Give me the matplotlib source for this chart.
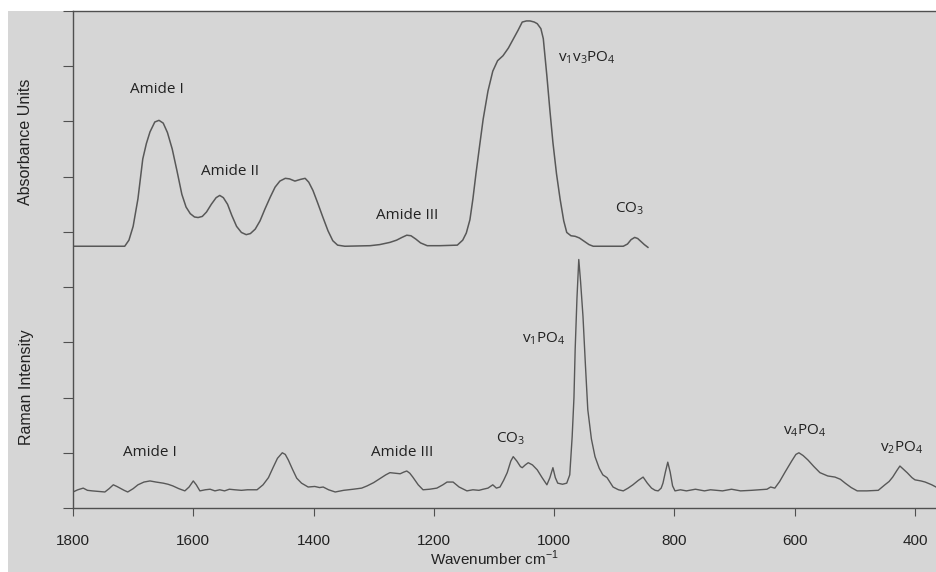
import matplotlib
matplotlib.use("Agg")
import matplotlib.pyplot as plt
from matplotlib.patches import Rectangle

# FTIR spectrum (upper trace), values in axis units
ftir_wn = [1800, 1714, 1707, 1700, 1692, 1684, 1678, 1672, 1664, 1657, 1650, 1643,
           1635, 1627, 1619, 1612, 1605, 1598, 1592, 1585, 1578, 1570, 1562, 1556,
           1550, 1543, 1536, 1528, 1520, 1512, 1505, 1497, 1489, 1481, 1472, 1464,
           1456, 1447, 1440, 1431, 1422, 1414, 1408, 1401, 1393, 1385, 1376, 1368,
           1360, 1348, 1306, 1290, 1273, 1262, 1253, 1245, 1238, 1230, 1222, 1211,
           1190, 1161, 1152, 1146, 1140, 1135, 1130, 1124, 1118, 1110, 1102, 1094,
           1085, 1076, 1068, 1060, 1053, 1046, 1040, 1033, 1028, 1022, 1018, 1012,
           1007, 1002, 996, 990, 984, 979, 972, 965, 958, 950, 942, 935, 885, 878,
           872, 866, 861, 856, 850, 844]
ftir_abs = [4.74, 4.74, 4.85, 5.10, 5.60, 6.32, 6.60, 6.81, 6.99, 7.02, 6.97, 6.80,
            6.50, 6.10, 5.68, 5.45, 5.33, 5.27, 5.26, 5.28, 5.36, 5.50, 5.62, 5.66,
            5.62, 5.50, 5.30, 5.10, 4.99, 4.95, 4.97, 5.05, 5.20, 5.41, 5.63, 5.81,
            5.92, 5.97, 5.96, 5.92, 5.95, 5.97, 5.90, 5.75, 5.52, 5.28, 5.02, 4.84,
            4.76, 4.74, 4.75, 4.77, 4.81, 4.85, 4.90, 4.94, 4.93, 4.87, 4.80, 4.75,
            4.75, 4.76, 4.85, 4.98, 5.22, 5.60, 6.05, 6.55, 7.04, 7.55, 7.91, 8.10,
            8.19, 8.33, 8.49, 8.65, 8.80, 8.82, 8.82, 8.80, 8.77, 8.68, 8.50, 7.82,
            7.20, 6.62, 6.05, 5.59, 5.20, 4.99, 4.93, 4.92, 4.89, 4.83, 4.77, 4.74,
            4.74, 4.78, 4.86, 4.90, 4.88, 4.83, 4.77, 4.72]

# Raman spectrum (lower trace)
raman_wn = [1800, 1792, 1783, 1776, 1768, 1758, 1747, 1740, 1733, 1727, 1722, 1715,
            1709, 1700, 1692, 1682, 1672, 1662, 1650, 1642, 1634, 1624, 1614, 1607,
            1600, 1595, 1589, 1580, 1572, 1564, 1556, 1548, 1540, 1531, 1520, 1510,
            1500, 1494, 1484, 1475, 1467, 1460, 1452, 1447, 1442, 1435, 1428, 1420,
            1409, 1398, 1390, 1384, 1375, 1364, 1350, 1334, 1320, 1311, 1300, 1290,
            1280, 1273, 1265, 1256, 1250, 1245, 1240, 1235, 1226, 1218, 1207, 1195,
            1185, 1178, 1168, 1158, 1145, 1135, 1125, 1118, 1110, 1102, 1096, 1090,
            1084, 1078, 1072, 1068, 1062, 1056, 1053, 1048, 1043, 1036, 1028, 1020,
            1012, 1007, 1002, 998, 994, 986, 979, 974, 970, 967, 965, 962, 959, 956,
            952, 948, 944, 938, 932, 925, 919, 912, 902, 893, 885, 877, 869, 860,
            852, 845, 838, 832, 827, 822, 819, 815, 811, 807, 803, 799, 790, 780,
            765, 750, 740, 720, 705, 690, 672, 660, 646, 640, 633, 625, 616, 605,
            598, 593, 586, 578, 568, 558, 545, 533, 524, 516, 506, 496, 480, 461,
            450, 443, 437, 430, 425, 419, 413, 405, 400, 390, 383, 372, 365]
raman_int = [0.29, 0.33, 0.36, 0.32, 0.31, 0.30, 0.29, 0.35, 0.42, 0.39, 0.36, 0.32,
             0.29, 0.35, 0.42, 0.47, 0.49, 0.47, 0.45, 0.43, 0.40, 0.35, 0.31, 0.38,
             0.49, 0.42, 0.31, 0.33, 0.34, 0.31, 0.33, 0.31, 0.34, 0.33, 0.32, 0.33,
             0.33, 0.33, 0.42, 0.55, 0.74, 0.90, 1.00, 0.97, 0.87, 0.70, 0.54, 0.45,
             0.38, 0.39, 0.37, 0.38, 0.33, 0.29, 0.32, 0.34, 0.36, 0.40, 0.46, 0.53,
             0.60, 0.64, 0.63, 0.62, 0.65, 0.67, 0.63, 0.56, 0.42, 0.33, 0.34, 0.36,
             0.42, 0.47, 0.47, 0.38, 0.31, 0.33, 0.32, 0.34, 0.36, 0.42, 0.36, 0.38,
             0.50, 0.64, 0.85, 0.93, 0.85, 0.75, 0.73, 0.78, 0.82, 0.78, 0.69, 0.55,
             0.42, 0.55, 0.73, 0.55, 0.45, 0.43, 0.45, 0.60, 1.29, 2.00, 2.87, 3.80,
             4.50, 4.10, 3.47, 2.60, 1.78, 1.25, 0.93, 0.72, 0.60, 0.55, 0.38, 0.33,
             0.31, 0.36, 0.42, 0.50, 0.56, 0.45, 0.36, 0.32, 0.31, 0.36, 0.45, 0.65,
             0.83, 0.65, 0.40, 0.31, 0.33, 0.31, 0.34, 0.31, 0.33, 0.31, 0.34, 0.31,
             0.32, 0.33, 0.34, 0.38, 0.36, 0.48, 0.65, 0.85, 0.97, 1.00, 0.95, 0.87,
             0.75, 0.64, 0.58, 0.56, 0.52, 0.45, 0.37, 0.31, 0.31, 0.32, 0.42, 0.48,
             0.56, 0.68, 0.76, 0.70, 0.64, 0.55, 0.51, 0.49, 0.47, 0.42, 0.38]

xticks = [1800, 1600, 1400, 1200, 1000, 800, 600, 400]

# peak labels: (text, wavenumber, y)
labels = [("Amide I", 1660, 7.58), ("Amide II", 1539, 6.1), ("Amide III", 1245, 5.3),
          ("$\\mathregular{v_1v_3PO_4}$", 945, 8.15), ("$\\mathregular{CO_3}$", 874, 5.42),
          ("Amide I", 1672, 1.0), ("Amide III", 1253, 1.0), ("$\\mathregular{CO_3}$", 1073, 1.25),
          ("$\\mathregular{v_1PO_4}$", 1018, 3.07), ("$\\mathregular{v_4PO_4}$", 583, 1.40),
          ("$\\mathregular{v_2PO_4}$", 422, 1.09)]

bg = "#d6d6d6"
ink = "#585858"

fig = plt.figure(figsize=(9.36, 5.72), dpi=100)
fig.patch.set_facecolor("white")
fig.patches.append(Rectangle((8 / 936, 0), 1, (572 - 11) / 572, transform=fig.transFigure,
                             facecolor=bg, edgecolor="none", zorder=-5))

ax = fig.add_axes([73 / 936, 64 / 572, 863 / 936, 497 / 572])
ax.set_facecolor(bg)
ax.plot(ftir_wn, ftir_abs, color=ink, lw=1.1)
ax.plot(raman_wn, raman_int, color=ink, lw=1.0)

ax.set_xlim(1800, 365)
ax.set_ylim(0, 9)
ax.set_xticks(xticks)
ax.set_yticks(range(10))
ax.set_yticklabels([])
ax.spines["right"].set_visible(False)
for s in ["left", "bottom", "top"]:
    ax.spines[s].set_color("#505050")
    ax.spines[s].set_linewidth(1.0)
ax.tick_params(axis="y", direction="out", length=7, color="#505050")
ax.tick_params(axis="x", direction="out", length=6, color="#505050", pad=13,
               labelsize=11, labelcolor="#222222")
for t in ax.get_xticklabels():
    t.set_fontfamily("Liberation Sans")

for txt, x, y in labels:
    ax.text(x, y, txt, ha="center", va="center", fontsize=11, family="Open Sans",
            color="#222222")

fig.text(26 / 936, 1 - 142 / 572, "Absorbance Units", rotation=90, ha="center", va="center",
         fontsize=11.5, family="Liberation Sans", color="#222222")
fig.text(26 / 936, 1 - 387 / 572, "Raman Intensity", rotation=90, ha="center", va="center",
         fontsize=11.5, family="Liberation Sans", color="#222222")
fig.text(495 / 936, 1 - 558 / 572, "Wavenumber cm$^{\\mathregular{-1}}$", ha="center", va="center",
         fontsize=11, family="Liberation Sans", color="#222222")

fig.savefig("out.png", dpi=100, facecolor="white")
